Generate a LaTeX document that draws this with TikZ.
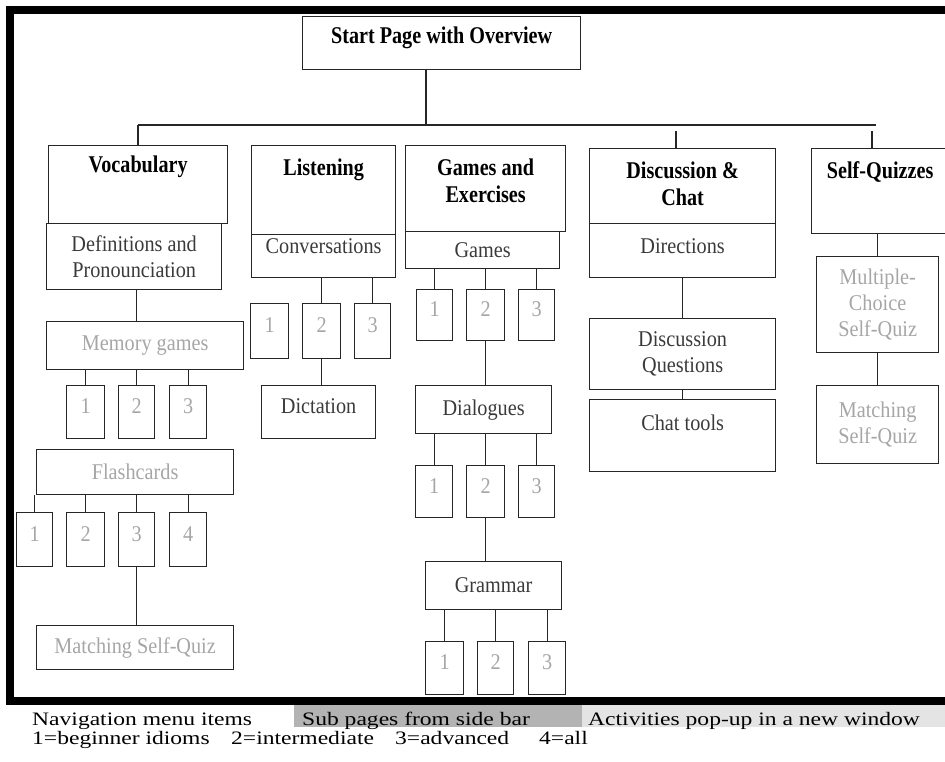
\documentclass[tikz,border=0pt]{standalone}
\usepackage{fontspec}
\setmainfont{Liberation Serif}
\newfontfamily\boxfont[FakeStretch=0.9]{Liberation Serif}
\newfontfamily\headfont[FakeStretch=0.84]{Liberation Serif}
\newfontfamily\keyfont[FakeStretch=1.24]{Liberation Serif}
\usetikzlibrary{positioning}
\definecolor{linegray}{HTML}{262626}
\definecolor{subtext}{HTML}{3A3A3A}
\definecolor{acttext}{HTML}{A6A6A6}
\definecolor{subbar}{HTML}{B3B3B3}
\definecolor{actbar}{HTML}{E4E4E4}
\tikzset{
	box/.style={draw=linegray, line width=1.3pt, inner sep=0pt, anchor=north west, align=center, font=\boxfont\fontsize{22.5}{26}\selectfont},
	headtxt/.style={inner sep=0pt, align=center, font=\headfont\bfseries\fontsize{24}{27.5}\selectfont},
	subtxt/.style={inner sep=0pt, text=subtext, font=\boxfont\fontsize{22.5}{26}\selectfont},
	sub/.style={text=subtext},
	act/.style={text=acttext},
	num/.style={box, act, text depth=12pt},
	link/.style={draw=linegray, line width=1.3pt},
	keytxt/.style={inner sep=0pt, anchor=base west, font=\keyfont\fontsize{19}{22}\selectfont}
}

\begin{document}
\begin{tikzpicture}[x=1pt, y=-1pt]
			%%%%% START %%%%%
			\useasboundingbox (0,0) rectangle (945,761);
			\clip (0,0) rectangle (945,761);
			
			\node[box, minimum width=278pt, minimum height=53pt] (start) at (302,16) {};
			\node[headtxt] (startT) at ([yshift=-22pt]start.north) {Start Page with Overview};
			
			\coordinate (busL) at (138,125);
			\coordinate (busM) at (426,125);
			\coordinate (busR) at (876,125);
			\coordinate (dropD) at (676,131);
			\coordinate (dropQ) at (872,131);
			
			% vocabulary
			\node[box, minimum width=179pt, minimum height=78pt] (vocab) at (48,145) {};
			\node[headtxt] (vocabT) at ([yshift=-22pt]vocab.north) {Vocabulary};
			\node[box, sub, minimum width=175pt, minimum height=66pt] (defs) at (46,223) {Definitions and\\Pronounciation};
			\node[box, act, minimum width=197pt, minimum height=48pt] (mem) at (46,321) {Memory games};
			\node[num, minimum width=38pt, minimum height=53pt] (mem1) at (66,385) {1};
			\node[num, minimum width=36pt, minimum height=53pt] (mem2) at (118,385) {2};
			\node[num, minimum width=37pt, minimum height=53pt] (mem3) at (169,385) {3};
			\node[box, act, minimum width=197pt, minimum height=45pt] (flash) at (36,449) {Flashcards};
			\node[num, minimum width=36pt, minimum height=54pt] (flash1) at (16,512) {1};
			\node[num, minimum width=38pt, minimum height=54pt] (flash2) at (66,512) {2};
			\node[num, minimum width=36pt, minimum height=54pt] (flash3) at (118,512) {3};
			\node[num, minimum width=37pt, minimum height=54pt] (flash4) at (169,512) {4};
			\node[box, act, minimum width=197pt, minimum height=44pt] (vmatch) at (36,625) {Matching Self-Quiz};
			
			\draw[link] (defs.south -| mem2) -- (mem.north -| mem2);
			\draw[link] (mem1.north) -- (mem1.north |- mem.south);
			\draw[link] (mem2.north) -- (mem2.north |- mem.south);
			\draw[link] (mem3.north) -- (mem3.north |- mem.south);
			\draw[link] (flash1.north) -- (flash1.north |- flash.south);
			\draw[link] (flash2.north) -- (flash2.north |- flash.south);
			\draw[link] (flash3.north) -- (flash3.north |- flash.south);
			\draw[link] (flash4.north) -- (flash4.north |- flash.south);
			\draw[link] (flash3.south) -- (flash3.south |- vmatch.north);
			
			% listening
			\node[box, minimum width=144pt, minimum height=89pt] (listen) at (251,145) {};
			\node[headtxt] (listenT) at ([yshift=-25pt]listen.north) {Listening};
			\node[box, minimum width=144pt, minimum height=43pt] (conv) at (251,234) {};
			\node[subtxt] (convT) at ([yshift=-12pt]conv.north) {Conversations};
			\node[num, minimum width=38pt, minimum height=55pt] (lis1) at (250,303) {1};
			\node[num, minimum width=38pt, minimum height=55pt] (lis2) at (302,303) {2};
			\node[num, minimum width=36pt, minimum height=55pt] (lis3) at (354,303) {3};
			\node[box, sub, text depth=12pt, minimum width=114pt, minimum height=53pt] (dict) at (261,385) {Dictation};
			
			\draw[link] (lis2.north) -- (lis2.north |- conv.south);
			\draw[link] (lis3.north) -- (lis3.north |- conv.south);
			\draw[link] (lis2.south) -- (lis2.south |- dict.north);
			
			% games and exercises
			\node[box, minimum width=160pt, minimum height=86pt] (games) at (405,145) {};
			\node[headtxt] (gamesT) at ([yshift=-36pt]games.north) {Games and\\Exercises};
			\node[box, sub, minimum width=154pt, minimum height=37pt] (gam) at (405,231) {Games};
			\node[num, minimum width=36pt, minimum height=51pt] (gam1) at (416,289) {1};
			\node[num, minimum width=38pt, minimum height=51pt] (gam2) at (466,289) {2};
			\node[num, minimum width=36pt, minimum height=51pt] (gam3) at (518,289) {3};
			\node[box, sub, minimum width=136pt, minimum height=48pt] (dial) at (415,385) {Dialogues};
			\node[num, minimum width=37pt, minimum height=52pt] (dial1) at (415,465) {1};
			\node[num, minimum width=38pt, minimum height=52pt] (dial2) at (466,465) {2};
			\node[num, minimum width=36pt, minimum height=52pt] (dial3) at (518,465) {3};
			\node[box, sub, minimum width=136pt, minimum height=48pt] (gram) at (425,561) {Grammar};
			\node[num, minimum width=38pt, minimum height=53pt] (gram1) at (425,641) {1};
			\node[num, minimum width=36pt, minimum height=53pt] (gram2) at (477,641) {2};
			\node[num, minimum width=37pt, minimum height=53pt] (gram3) at (528,641) {3};
			
			\draw[link] (gam1.north) -- (gam1.north |- gam.south);
			\draw[link] (gam2.north) -- (gam2.north |- gam.south);
			\draw[link] (gam3.north) -- (gam3.north |- gam.south);
			\draw[link] (gam2.south) -- (gam2.south |- dial.north);
			\draw[link] (dial1.north) -- (dial1.north |- dial.south);
			\draw[link] (dial2.north) -- (dial2.north |- dial.south);
			\draw[link] (dial3.north) -- (dial3.north |- dial.south);
			\draw[link] (dial2.south) -- (dial2.south |- gram.north);
			\draw[link] (gram1.north) -- (gram1.north |- gram.south);
			\draw[link] (gram2.north) -- (gram2.north |- gram.south);
			\draw[link] (gram3.north) -- (gram3.north |- gram.south);
			
			% discussion
			\node[box, minimum width=186pt, minimum height=75pt] (disc) at (589,148) {};
			\node[headtxt] (discT) at ([yshift=-36pt]disc.north) {Discussion \&\\Chat};
			\node[box, minimum width=186pt, minimum height=54pt] (dirs) at (589,223) {};
			\node[subtxt] (dirsT) at ([yshift=-23pt]dirs.north) {Directions};
			\node[box, sub, minimum width=186pt, minimum height=71pt] (dq) at (589,318) {Discussion\\Questions};
			\node[box, minimum width=186pt, minimum height=72pt] (chat) at (589,399) {};
			\node[subtxt] (chatT) at ([yshift=-24pt]chat.north) {Chat tools};
			
			\draw[link] (dirs.south) -- (dq.north);
			\draw[link] (dq.south) -- (chat.north);
			
			% self-quizzes
			\node[box, minimum width=137pt, minimum height=85pt] (quiz) at (811,148) {};
			\node[headtxt] (quizT) at ([yshift=-24pt]quiz.north) {Self-Quizzes};
			\node[box, act, minimum width=122pt, minimum height=96pt] (mcq) at (816,256) {Multiple-\\Choice\\Self-Quiz};
			\node[box, act, minimum width=122pt, minimum height=78pt] (mq) at (816,385) {Matching\\Self-Quiz};
			
			\draw[link] (quiz.south -| mcq.north) -- (mcq.north);
			\draw[link] (mcq.south) -- (mq.north);
			
			% tree lines
			\draw[link] (busM |- start.south) -- (busM);
			\draw[link] (busL) -- (busR);
			\draw[link] (busL) -- (busL |- vocab.north);
			\draw[link] (dropD) -- (dropD |- disc.north);
			\draw[link] (dropQ) -- (dropQ |- quiz.north);
			
			\draw[line width=8pt] (10,10) rectangle (951,700.5);
			
			% key
			\fill[subbar] (294,705) rectangle (582,727);
			\fill[actbar] (582,705) rectangle (945,727);
			\node[keytxt] (navkey) at (32,725) {Navigation menu items};
			\node[keytxt] (subkey) at (302,725) {Sub pages from side bar};
			\node[keytxt] (actkey) at (588,725) {Activities pop-up in a new window};
			\node[keytxt] (lvl1) at (32,744) {1=beginner idioms};
			\node[keytxt] (lvl2) at (231,744) {2=intermediate};
			\node[keytxt] (lvl3) at (395,744) {3=advanced};
			\node[keytxt] (lvl4) at (539,744) {4=all};
			
			%%%%% END %%%%%
\end{tikzpicture}
\end{document}
